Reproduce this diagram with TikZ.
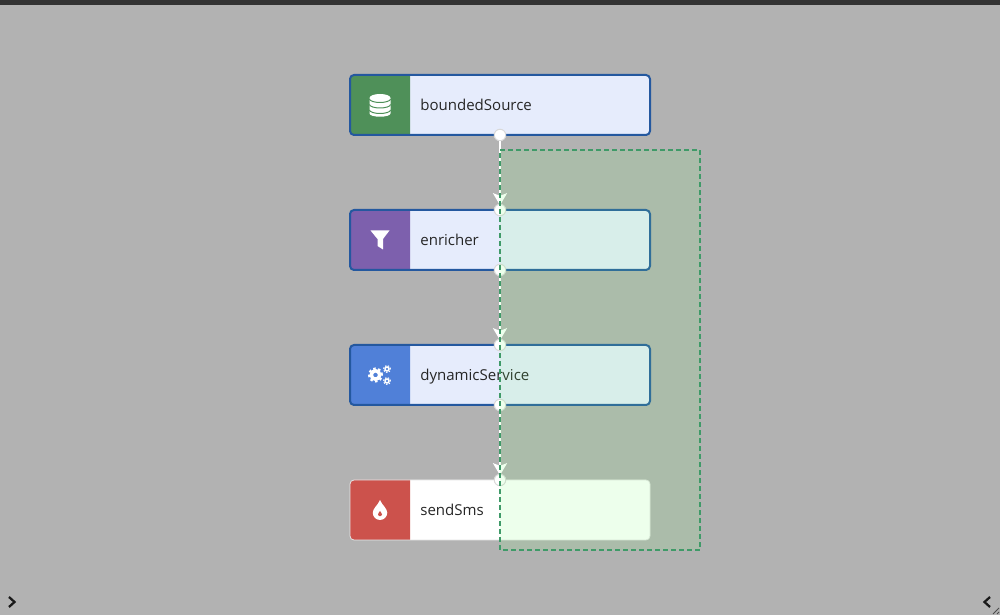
\documentclass[tikz,border=0pt]{standalone}
\usepackage{fontspec}
\setmainfont{Open Sans}
\usetikzlibrary{arrows.meta}
\definecolor{canvas}{HTML}{b2b2b2}
\definecolor{topbar}{HTML}{333333}
\definecolor{body}{HTML}{e6ecfc}
\definecolor{rim}{HTML}{24589f}
\definecolor{source}{HTML}{4f9059}
\definecolor{filter}{HTML}{7d60ad}
\definecolor{service}{HTML}{5080d8}
\definecolor{sink}{HTML}{cc524c}
\definecolor{tint}{HTML}{7eff76}
\definecolor{seldash}{HTML}{3f9a68}
\tikzstyle{box}=[rectangle,
                             rounded corners=0.08cm,
                             outer sep=0pt,
                             minimum width=6cm,
                             minimum height=1.2cm,
                             fill=body
                            ]
\tikzstyle{icon}=[rectangle,
                             outer sep=0pt,
                             minimum size=1.2cm
                            ]
\tikzstyle{title}=[anchor=west,
                             inner sep=0pt,
                             text height=1.5ex,
                             text depth=0.4ex,
                             text=black!85,
                             font=\fontsize{8.55pt}{10pt}\selectfont
                            ]
\tikzstyle{port}=[circle,
                             draw=black!15,
                             fill=white,
                             line width=0.02cm,
                             inner sep=0pt,
                             minimum size=0.23cm
                            ]
\tikzstyle{link}=[draw=white,
                             line width=0.04cm,
                             shorten >=-0.03cm,
                             -{Stealth[length=0.24cm,width=0.28cm,inset=0.05cm,fill=white]}
                            ]
\tikzstyle{frame}=[draw=rim, line width=0.04cm, rounded corners=0.08cm]
\tikzstyle{chevron}=[draw=black!90, line width=0.045cm]
\newcommand{\headfill}[2]{\fill[#2] (#1.north east) [rounded corners=0.08cm] -- (#1.north west) -- (#1.south west) [sharp corners] -- (#1.south east) -- cycle;}
\begin{document}
\begin{tikzpicture}
  \useasboundingbox (0cm, 0cm) rectangle (20cm, 12.3cm);
  \fill[canvas] (0cm, 0cm) rectangle (20cm, 12.3cm);
  \fill[topbar] (0cm, 12.2cm) rectangle (20cm, 12.3cm);

  % boundedSource
  \node at (10cm, 10.2cm) (src) [box] {};
  \node at (7.6cm, 10.2cm) (srcicon) [icon] {};
  \headfill{srcicon}{source}
  \draw[frame] (src.north west) rectangle (src.south east);
  \node at (8.4cm, 10.2cm) (srctext) [title] {boundedSource};
  \begin{scope}[shift={(srcicon.center)}]
    \fill[white] (-0.21, 0.14) -- (-0.21, -0.17) arc (180:360:0.21 and 0.065) -- (0.21, 0.14) arc (0:180:0.21 and 0.08) -- cycle;
    \draw[source, line width=0.02cm] (-0.21, 0.12) arc (180:360:0.21 and 0.07);
    \draw[source, line width=0.02cm] (-0.21, 0.01) arc (180:360:0.21 and 0.07);
    \draw[source, line width=0.02cm] (-0.21, -0.1) arc (180:360:0.21 and 0.07);
  \end{scope}

  % enricher
  \node at (10cm, 7.5cm) (enr) [box] {};
  \node at (7.6cm, 7.5cm) (enricon) [icon] {};
  \headfill{enricon}{filter}
  \draw[frame] (enr.north west) rectangle (enr.south east);
  \node at (8.4cm, 7.5cm) (enrtext) [title] {enricher};
  \begin{scope}[shift={(enricon.center)}]
    \fill[white] (-0.19, 0.19) -- (0.19, 0.19) -- (0.06, 0.02) -- (0.06, -0.19) -- (-0.05, -0.12) -- (-0.05, 0.02) -- cycle;
  \end{scope}

  % dynamicService
  \node at (10cm, 4.8cm) (dyn) [box] {};
  \node at (7.6cm, 4.8cm) (dynicon) [icon] {};
  \headfill{dynicon}{service}
  \draw[frame] (dyn.north west) rectangle (dyn.south east);
  \node at (8.4cm, 4.8cm) (dyntext) [title] {dynamicService};
  \begin{scope}[shift={(dynicon.center)}]
    \draw[white, line width=0.07cm] (-0.09, 0) circle (0.085);
    \draw[white, line width=0.04cm, dash pattern=on 0.05cm off 0.05cm] (-0.09, 0) circle (0.13);
    \draw[white, line width=0.03cm] (0.14, 0.12) circle (0.04);
    \draw[white, line width=0.02cm, dash pattern=on 0.03cm off 0.03cm] (0.14, 0.12) circle (0.07);
    \draw[white, line width=0.03cm] (0.14, -0.12) circle (0.04);
    \draw[white, line width=0.02cm, dash pattern=on 0.03cm off 0.03cm] (0.14, -0.12) circle (0.07);
  \end{scope}

  % sendSms
  \node at (10cm, 2.1cm) (snd) [box, fill=white] {};
  \node at (7.6cm, 2.1cm) (sndicon) [icon] {};
  \headfill{sndicon}{sink}
  \draw[frame, draw=black!10, line width=0.015cm] (snd.north west) rectangle (snd.south east);
  \node at (8.4cm, 2.1cm) (sndtext) [title] {sendSms};
  \begin{scope}[shift={(sndicon.center)}]
    \fill[white] (0, 0.2) .. controls (0.04, 0.1) and (0.145, 0.03) .. (0.145, -0.055) arc (0:-180:0.145) .. controls (-0.145, 0.03) and (-0.04, 0.1) .. (0, 0.2) -- cycle;
    \fill[sink] (0, -0.02) .. controls (0.01, -0.05) and (0.04, -0.06) .. (0.04, -0.085) arc (0:-180:0.04) .. controls (-0.04, -0.06) and (-0.01, -0.05) .. (0, -0.02) -- cycle;
  \end{scope}

  % ports
  \node at (10cm, 9.6cm) (srcout) [port] {};
  \node at (10cm, 8.1cm) (enrin) [port] {};
  \node at (10cm, 6.9cm) (enrout) [port] {};
  \node at (10cm, 5.4cm) (dynin) [port] {};
  \node at (10cm, 4.2cm) (dynout) [port] {};
  \node at (10cm, 2.7cm) (sndin) [port] {};

  \draw[link] (srcout) -- (enrin);
  \draw[link] (enrout) -- (dynin);
  \draw[link] (dynout) -- (sndin);

  % selection
  \fill[tint, opacity=0.135] (10cm, 1.3cm) rectangle (14cm, 9.3cm);
  \draw[seldash, line width=0.045cm, dash pattern=on 0.1cm off 0.06cm] (10cm, 1.3cm) rectangle (14cm, 9.3cm);

  % corner marks
  \draw[chevron] (0.18cm, 0.36cm) -- (0.29cm, 0.26cm) -- (0.18cm, 0.16cm);
  \draw[chevron] (19.8cm, 0.36cm) -- (19.69cm, 0.26cm) -- (19.8cm, 0.16cm);
  \draw[black!70, line width=0.015cm] (19.86cm, 0.02cm) -- (19.98cm, 0.14cm);
  \draw[black!70, line width=0.015cm] (19.94cm, 0.02cm) -- (19.98cm, 0.06cm);
\end{tikzpicture}
\end{document}
